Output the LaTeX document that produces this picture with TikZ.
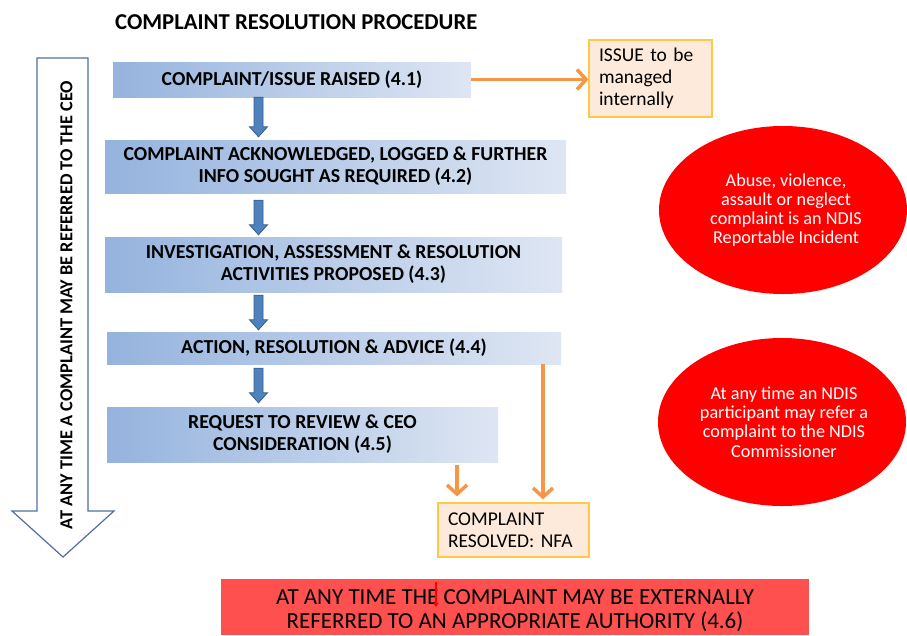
\documentclass[tikz,border=0pt]{standalone}
\usepackage{fontspec}
\setmainfont{Carlito}
\usetikzlibrary{arrows.meta,shapes.geometric,calc}
\definecolor{boxL}{RGB}{149,179,222}
\definecolor{boxR}{RGB}{222,230,243}
\definecolor{blueA}{RGB}{79,129,189}
\definecolor{blueB}{RGB}{56,93,138}
\definecolor{orng}{RGB}{247,150,70}
\definecolor{peach}{RGB}{253,234,218}
\definecolor{gold}{RGB}{255,200,70}
\definecolor{bigarr}{RGB}{80,110,160}
\definecolor{banner}{RGB}{255,80,80}
\newcommand{\flowarrow}[4]{%
\draw[blueflow] ($(#1.south -| ax)+(-4.5,#3)$) -- ($(#2.north -| ax)+(-4.5,-#4-10)$) -- ($(#2.north -| ax)+(-9,-#4-10)$) -- ($(#2.north -| ax)+(0,-#4)$) -- ($(#2.north -| ax)+(9,-#4-10)$) -- ($(#2.north -| ax)+(4.5,-#4-10)$) -- ($(#1.south -| ax)+(4.5,#3)$) -- cycle;}
\begin{document}
\begin{tikzpicture}[x=1pt,y=-1pt,
  procbox/.style={left color=boxL, right color=boxR, draw=none, inner sep=0pt, align=center, font=\bfseries\fontsize{19.8}{22}\selectfont, text=black},
  notebox/.style={fill=peach, draw=gold, line width=1.3pt, align=left, inner xsep=10pt, inner ysep=0pt, font=\fontsize{19.5}{21.8}\selectfont},
  redell/.style={ellipse, fill=red, draw=none, minimum width=248pt, minimum height=168pt, inner sep=0pt, text=white, align=center, font=\fontsize{18.2}{19.2}\selectfont},
  blueflow/.style={fill=blueA, draw=blueB, line width=0.8pt},
  orarr/.style={draw=orng, line width=3.5pt, -{Straight Barb[length=9pt,width=20pt]}}]
\useasboundingbox (0,0) rectangle (907,635);
% title
\node[font=\bfseries\fontsize{22.7}{24}\selectfont, anchor=west, inner sep=0pt] (title) at (115,22) {COMPLAINT RESOLUTION PROCEDURE};
% big side arrow
\draw[bigarr, line width=1.2pt, fill=white] (37,58) -- (88,58) -- (88,511) -- (114,511) -- (63,557) -- (12,511) -- (37,511) -- cycle;
\node[rotate=90, font=\bfseries\fontsize{18.3}{20}\selectfont, inner sep=0pt] (side) at (66.5,305) {AT ANY TIME A COMPLAINT MAY BE REFERRED TO THE CEO};
% process boxes
\node[procbox, minimum width=358pt, minimum height=35pt] (b1) at (292,79.5) {COMPLAINT/ISSUE RAISED (4.1)};
\node[procbox, minimum width=461pt, minimum height=53pt] (b2) at (335.5,166.5) {COMPLAINT ACKNOWLEDGED, LOGGED \& FURTHER\\INFO SOUGHT AS REQUIRED (4.2)};
\node[procbox, minimum width=457pt, minimum height=55pt] (b3) at (333.5,264.5) {INVESTIGATION, ASSESSMENT \& RESOLUTION\\ACTIVITIES PROPOSED (4.3)};
\node[procbox, minimum width=454pt, minimum height=32pt] (b4) at (334,348) {ACTION, RESOLUTION \& ADVICE (4.4)};
\node[procbox, minimum width=391pt, minimum height=55pt] (b5) at (302.5,434.5) {REQUEST TO REVIEW \& CEO\\CONSIDERATION (4.5)};
% blue flow arrows
\coordinate (ax) at (258.5,0);
\flowarrow{b1}{b2}{0}{3}
\flowarrow{b2}{b3}{7}{2}
\flowarrow{b3}{b4}{3}{2}
\flowarrow{b4}{b5}{4}{4}
% side boxes
\node[notebox, text width=103pt, minimum height=77pt] (iss) at (650.5,78.5) {ISSUE to be\\managed\\internally};
\node[notebox, text width=131pt, minimum height=54pt] (nfa) at (513.5,530) {COMPLAINT\\RESOLVED: NFA};
% orange arrows
\coordinate (o1) at (543,0);
\coordinate (o2) at (457,0);
\draw[orarr] (b1.east) -- (b1.east -| iss.west);
\draw[orarr] (b4.south -| o1) -- ($(nfa.north -| o1)+(0,-3)$);
\draw[orarr] ($(b5.south -| o2)+(0,3)$) -- ($(nfa.north -| o2)+(0,-6)$);
% red ellipses
\node[redell] (e1) at (783,210) {\hspace*{6pt}Abuse, violence,\\\hspace*{6pt}assault or neglect\\\hspace*{6pt}complaint is an NDIS\\\hspace*{6pt}Reportable Incident};
\node[redell] (e2) at (782,422) {\hspace*{4pt}At any time an NDIS\\\hspace*{4pt}participant may refer a\\\hspace*{4pt}complaint to the NDIS\\\hspace*{4pt}Commissioner};
% banner
\node[fill=banner, minimum width=588pt, minimum height=56pt, inner sep=0pt] (ban) at (515,607) {};
\node[align=center, inner sep=0pt, font=\fontsize{23}{24}\selectfont] (bantxt) at (515,611) {AT ANY TIME THE COMPLAINT MAY BE EXTERNALLY\\REFERRED TO AN APPROPRIATE AUTHORITY (4.6)};
\coordinate (ra1) at (436,582);
\coordinate (ra2) at (436,607);
\draw[draw=red, line width=1.8pt, -{Triangle[length=4pt,width=5pt]}] (ra1) -- (ra2);
\end{tikzpicture}
\end{document}
